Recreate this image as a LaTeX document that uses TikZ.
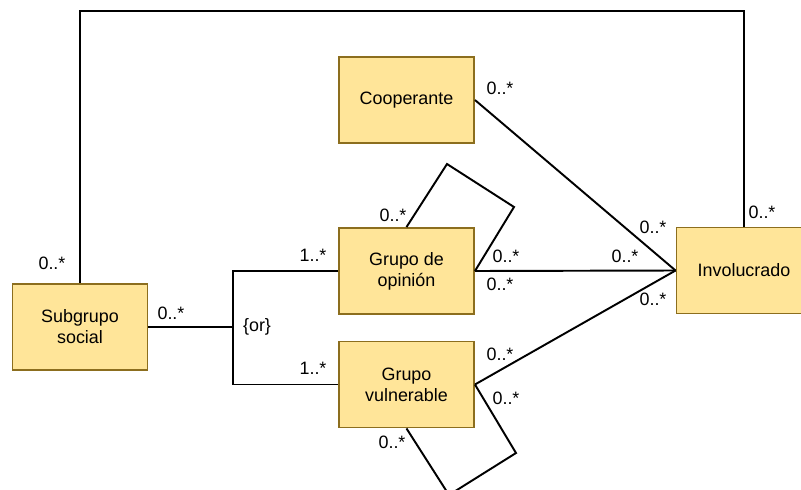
\documentclass[tikz,border=0pt]{standalone}
\usepackage{fontspec}
\setmainfont{Liberation Sans}
\usepackage{tikz}

\definecolor{boxfill}{RGB}{255,229,153}
\definecolor{boxline}{RGB}{140,110,30}

\tikzset{
	clase/.style={shape=rectangle,draw=boxline,fill=boxfill,line width=1.1pt,
		minimum width=2.7cm,minimum height=1.72cm,align=center,
		font=\fontsize{10.2}{12}\selectfont},
	mult/.style={font=\fontsize{10.2}{12}\selectfont,inner sep=0pt},
	assoc/.style={draw=black,line width=1.1pt}
}

\begin{document}
\begin{tikzpicture}[x=0.02cm,y=-0.02cm]
		\clip (0,0) rectangle (801,490);
		\useasboundingbox (0,0) rectangle (801,490);
		\node[clase] (coop) at (406.5,100) {Cooperante};
		\node[clase] (gop) at (406.5,271) {Grupo de\\opinión};
		\node[clase] (gvu) at (406.5,384.5) {Grupo\\vulnerable};
		\node[clase] (sub) at (80,327) {Subgrupo\\social};
		\node[clase] (inv) at (744,270.5) {Involucrado};
		\coordinate (top) at (0,11);
		\coordinate (orx) at (233,327);
		\coordinate (lp1) at (447,164);
		\coordinate (lp2) at (514,207);
		\coordinate (lp3) at (516,453);
		\coordinate (lp4) at (449,495);
		\draw [assoc] (sub.north) -- (sub.north |- top) -| (inv.north);
		\draw [assoc] (sub.east) -- (orx);
		\draw [assoc] (gop.west) -- (gop.west -| orx) -- (gvu.west -| orx) -- (gvu.west);
		\draw [assoc] (coop.east) -- (inv.west);
		\draw [assoc] (gop.east) -- (inv.west);
		\draw [assoc] (gvu.east) -- (inv.west);
		\draw [assoc] (gop.north) -- (lp1) -- (lp2) -- (gop.east);
		\draw [assoc] (gvu.east) -- (lp3) -- (lp4) -- (gvu.south);
		\node[mult] (m1) at (500,88) {0..*};
		\node[mult] (m2) at (653,227) {0..*};
		\node[mult] (m3) at (506,256) {0..*};
		\node[mult] (m4) at (500,284) {0..*};
		\node[mult] (m5) at (625,256) {0..*};
		\node[mult] (m6) at (653,299) {0..*};
		\node[mult] (m7) at (762,212) {0..*};
		\node[mult] (m8) at (393,215) {0..*};
		\node[mult] (m9) at (500,354) {0..*};
		\node[mult] (m10) at (506,398) {0..*};
		\node[mult] (m11) at (392,442) {0..*};
		\node[mult] (m12) at (52,263) {0..*};
		\node[mult] (m13) at (171,313) {0..*};
		\node[mult] (m14) at (313,255) {1..*};
		\node[mult] (m15) at (313,368) {1..*};
		\node[mult] (or) at (257,327) {\{or\}};
	\end{tikzpicture}
\end{document}
